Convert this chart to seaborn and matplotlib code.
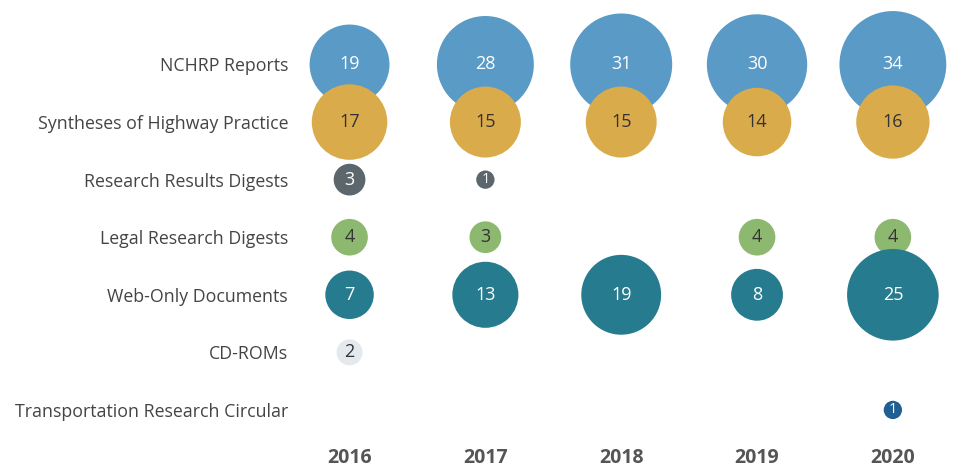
import matplotlib
matplotlib.use("Agg")
import matplotlib.pyplot as plt
import seaborn as sns
import pandas as pd
import numpy as np

years = ["2016", "2017", "2018", "2019", "2020"]
series = ["NCHRP Reports", "Syntheses of Highway Practice", "Research Results Digests",
          "Legal Research Digests", "Web-Only Documents", "CD-ROMs",
          "Transportation Research Circular"]
nchrp = [19, 28, 31, 30, 34]
syntheses = [17, 15, 15, 14, 16]
rrd = [3, 1, None, None, None]
lrd = [4, 3, None, 4, 4]
web_only = [7, 13, 19, 8, 25]
cdroms = [2, None, None, None, None]
trc = [None, None, None, None, 1]
values = [nchrp, syntheses, rrd, lrd, web_only, cdroms, trc]

colors = ["#5A9AC6", "#D9AB4B", "#5B666D", "#8DB870", "#267B8E", "#E4E9EE", "#215F92"]
text_colors = ["white", "#333333", "white", "#333333", "white", "#333333", "white"]

rows = []
for s, vals in zip(series, values):
    for y, v in zip(years, vals):
        if v is not None:
            rows.append({"Year": y, "Series": s, "Value": v})
df = pd.DataFrame(rows)

sns.set_theme(style="white")
plt.rcParams['font.family'] = ['Open Sans', 'DejaVu Sans']

fig = plt.figure(figsize=(9.63, 4.76), dpi=100)
ax = fig.add_axes([302 / 963, 1 - 437 / 476, (954 - 302) / 963, 437 / 476])

vmax = max(nchrp)
smax = 174 * vmax
sns.scatterplot(data=df, x="Year", y="Series", hue="Series", size="Value",
                palette=dict(zip(series, colors)), hue_order=series,
                sizes=(0, smax), size_norm=(0, vmax), linewidth=0,
                legend=False, ax=ax, clip_on=False, alpha=1)

ax.set_xlim(-0.35, 4.45)
ax.set_ylim(6.47, -1.12)

tc = dict(zip(series, text_colors))
for _, r in df.iterrows():
    xi = years.index(r["Year"])
    yi = series.index(r["Series"])
    ax.text(xi, yi, str(r["Value"]), ha="center", va="center",
            color=tc[r["Series"]], fontsize=13 if r["Value"] > 1 else 10.5, zorder=5)

ax.set_yticks(range(len(series)))
ax.set_yticklabels(series, fontsize=12.8, color="#444444")
ax.set_xticks(range(len(years)))
ax.set_xticklabels(years, fontsize=14, fontweight="bold", color="#555555")
ax.tick_params(axis="y", length=0, pad=10)
ax.tick_params(axis="x", length=0, pad=8)
ax.set_xlabel("")
ax.set_ylabel("")
for sp in ax.spines.values():
    sp.set_visible(False)

fig.savefig("out.png", dpi=100)
